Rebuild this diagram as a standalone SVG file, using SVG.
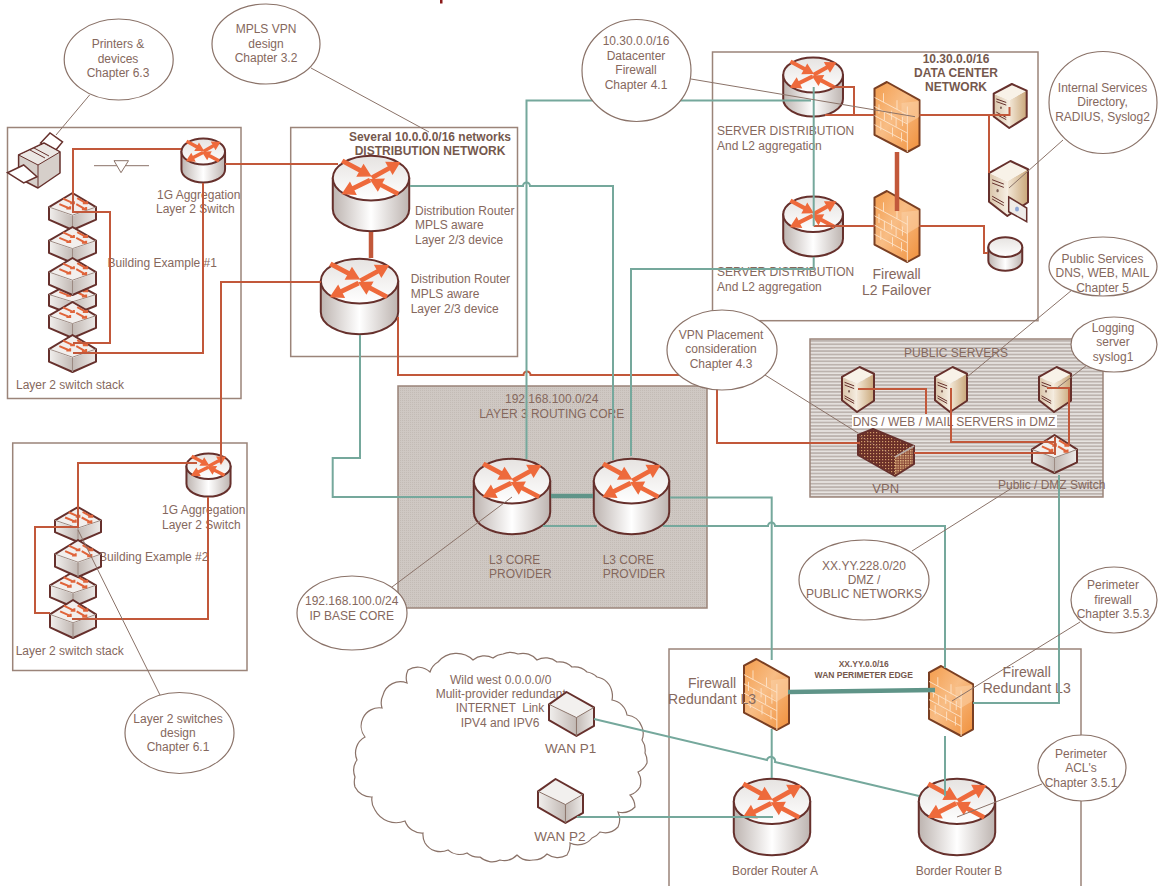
<svg xmlns="http://www.w3.org/2000/svg" width="1158" height="886" viewBox="0 0 1158 886">
<style>
text{font-family:"Liberation Sans",Arial,sans-serif;font-size:12px;fill:#85685d}
.m{text-anchor:middle}
.b{font-weight:bold;fill:#75584d}
.l{font-size:14px}
.s{font-size:8.5px}
.box{fill:none;stroke:#9b8479;stroke-width:1.5}
.ol{stroke:#66302c;stroke-width:2;vector-effect:non-scaling-stroke;stroke-linejoin:round}
.ofw{stroke:#7a3f22;stroke-width:2;vector-effect:non-scaling-stroke;stroke-linejoin:round}
.in{fill:none;stroke:#66302c;stroke-width:1;vector-effect:non-scaling-stroke}
.br{fill:none;stroke:#fde3c8;stroke-width:.9;vector-effect:non-scaling-stroke}
.ar{fill:#ee6a3c;stroke:#ee6a3c;stroke-width:1.6;vector-effect:non-scaling-stroke}
.o{fill:none;stroke:#c2583a;stroke-width:2}
.ot{fill:none;stroke:#c2583a;stroke-width:4.5}
.g{fill:none;stroke:#75a89c;stroke-width:2}
.gt{fill:none;stroke:#5f9488;stroke-width:4.5}
.c{fill:none;stroke:#8a7268;stroke-width:1}
.e{fill:#fff;stroke:#8a7268;stroke-width:1.2}
</style>
<defs>
<linearGradient id="gb" x1="0" x2="1" y1="0" y2="0"><stop offset="0" stop-color="#bdb4b0"/><stop offset=".5" stop-color="#fff"/><stop offset="1" stop-color="#bdb4b0"/></linearGradient>
<linearGradient id="gt" x1="0" x2="0" y1="0" y2="1"><stop offset="0" stop-color="#e6e3e1"/><stop offset="1" stop-color="#fff"/></linearGradient>
<linearGradient id="gl" x1="0" x2="1" y1="0" y2="0"><stop offset="0" stop-color="#f0eeec"/><stop offset="1" stop-color="#c2b9b4"/></linearGradient>
<linearGradient id="gr" x1="0" x2="1" y1="0" y2="0"><stop offset="0" stop-color="#c2b9b4"/><stop offset="1" stop-color="#ecE9e7"/></linearGradient>
<linearGradient id="fw" x1="0" x2="1" y1="0" y2="1"><stop offset="0" stop-color="#f39c4c"/><stop offset=".45" stop-color="#f8bd85"/><stop offset="1" stop-color="#f0903c"/></linearGradient>
<linearGradient id="sl" x1="0" x2="1" y1="0" y2="0"><stop offset="0" stop-color="#d9c4a8"/><stop offset="1" stop-color="#f6eee2"/></linearGradient>
<linearGradient id="sr" x1="0" x2="1" y1="0" y2="0"><stop offset="0" stop-color="#f3e8d8"/><stop offset="1" stop-color="#c9a779"/></linearGradient>
<pattern id="stripes" width="3" height="3.4" patternUnits="userSpaceOnUse"><rect width="3" height="3.4" fill="#e8e4e1"/><rect width="3" height="1.8" fill="#bcb3ae"/></pattern>
<pattern id="dots" width="2" height="2" patternUnits="userSpaceOnUse"><rect width="2" height="2" fill="#cfc8c3"/><rect width="1" height="1" fill="#c3bbb5"/></pattern>
<pattern id="vp" width="3" height="3" patternUnits="userSpaceOnUse"><rect width="3" height="3" fill="#6b2f28"/><rect width="1.2" height="1.2" fill="#d4a06c"/></pattern>
<pattern id="vp2" width="2.5" height="2.5" patternUnits="userSpaceOnUse"><rect width="2.5" height="2.5" fill="#8a4a38"/><rect width="1.4" height="1.4" fill="#e5bb86"/></pattern>
<g id="arrows">
<polygon class="ar" points="13,9.8 35.8,22.1 32.9,27.3 49,27 40.5,13.3 37.7,18.5 15,6.2"/>
<polygon class="ar" points="53,30.8 74.8,18.6 77.7,23.8 86,10 69.9,9.8 72.8,15.1 51,27.3"/>
<polygon class="ar" points="47.1,31.2 25.6,41.9 22.9,36.5 14,50 30.1,50.9 27.4,45.5 48.9,34.8"/>
<polygon class="ar" points="84.9,48.2 63.3,36.8 66.1,31.5 50,32 58.7,45.7 61.5,40.4 83.1,51.8"/>
</g>
<g id="cyl">
<path class="ol" fill="url(#gb)" d="M1,30V70A49,29 0 0 0 99,70V30Z"/>
<ellipse cx="50" cy="30" rx="49" ry="29" fill="url(#gt)" class="ol"/>
</g>
<g id="router"><use href="#cyl"/><use href="#arrows"/></g>
<g id="switch">
<polygon fill="url(#gl)" points="1,40 50,62 50,98 1,71"/>
<polygon fill="url(#gr)" points="50,62 99,40 99,71 50,98"/>
<polygon fill="#f2efed" points="2,38 50,2 98,38 50,60"/>
<path class="ol" fill="none" d="M0,38 50,0 100,38 100,72 50,100 0,72Z"/>
<path fill="none" stroke="#9c8a82" stroke-width="1" vector-effect="non-scaling-stroke" d="M0,38 50,60 100,38M50,60V100"/>
<path fill="none" stroke="#e0643a" stroke-width="2" vector-effect="non-scaling-stroke" d="M30,15 L52,28M45,28h8v-6M60,14 L80,28M72,28h9v-6M22,30 L44,42M37,42h8v-6M58,30 L78,44M70,44h9v-6"/>
</g>
<g id="firewall">
<polygon class="ofw" fill="url(#fw)" points="0,9.4 27.5,0 100,26 100,90.5 73,100 0,75.5"/>
<polygon fill="#fbd2a8" opacity=".55" points="60,30 99,27 99,50 73,60 60,52"/>
<path class="br" d="M0,22 73,47M0,35 73,60M0,48 73,73M0,61 73,86M20,16v13M50,26v13M10,32v13M38,41v13M62,50v13M22,42v13M48,51v13M14,56v13M40,65v13M60,72v13M73,35V100"/>
</g>
<g id="server">
<polygon fill="url(#sr)" points="47,37 100,15 100,75 47,100"/>
<polygon fill="url(#sl)" points="0,22 47,37 47,100 0,74"/>
<polygon fill="#f8f2e8" points="0,22 55,0 100,15 47,37"/>
<path class="ol" fill="none" d="M0,22 55,0 100,15 100,75 47,100 0,74Z"/>
<path class="in" d="M8,34 38,42M8,40 38,48M8,64 38,76M8,69 38,81"/>
<circle cx="22" cy="54" r="3" fill="#7d5f55"/>
</g>
<g id="wanbox">
<polygon fill="url(#gl)" points="1,29 61,58 61,99 1,64"/>
<polygon fill="url(#gr)" points="61,58 99,36 99,77 61,99"/>
<polygon fill="#f2f0ee" points="2,28 39,1 98,35 61,57"/>
<path class="ol" fill="none" d="M0,28 39,0 100,35 100,77 61,100 0,64Z"/>
<path fill="none" stroke="#8a7268" stroke-width="1" vector-effect="non-scaling-stroke" d="M0,28 61,58 100,35M61,58V100"/>
</g>
</defs>
<rect width="1158" height="886" fill="#fff"/>
<rect x="440" y="0" width="2.5" height="3.5" fill="#8b1a1a"/>

<g id="regions">
<g id="building-1"><rect class="box" x="7.5" y="127.5" width="233.5" height="271"/><text x="107.5" y="267">Building Example #1</text></g>
<g id="distribution-network"><rect class="box" x="290.7" y="127.5" width="226.8" height="229"/><text class="m b" x="430" y="141">Several 10.0.0.0/16 networks</text><text class="m b" x="430" y="155">DISTRIBUTION NETWORK</text></g>
<g id="data-center"><rect class="box" x="712.5" y="52" width="325.5" height="268.7"/><text class="m b" x="956" y="63">10.30.0.0/16</text><text class="m b" x="956" y="77">DATA CENTER</text><text class="m b" x="956" y="91">NETWORK</text></g>
<g id="building-2"><rect class="box" x="12.7" y="443" width="234.3" height="227.5"/><text x="99" y="560.5">Building Example #2</text></g>
<g id="routing-core"><rect x="398" y="386" width="309" height="222" fill="url(#dots)" stroke="#9b8479" stroke-width="1.5"/><text class="m" x="551.7" y="403">192.168.100.0/24</text><text class="m" x="551.7" y="417.5">LAYER 3 ROUTING CORE</text></g>
<g id="public-servers"><rect x="810" y="339" width="293" height="158" fill="url(#stripes)" stroke="#9b8479" stroke-width="1.5"/><text class="m" x="956" y="356.5">PUBLIC SERVERS</text><rect x="852" y="415" width="205" height="13" fill="#fff"/><text class="m" x="954" y="425.5">DNS / WEB / MAIL SERVERS in DMZ</text></g>
<g id="wan-perimeter"><path class="box" d="M669,890V649H1081V890"/><text class="m b s" x="863.7" y="667">XX.YY.0.0/16</text><text class="m b s" x="863.7" y="678">WAN PERIMETER EDGE</text></g>
<g id="internet-cloud"><path fill="#fff" stroke="#8a7268" stroke-width="1.2" d="M355,777A18,18 0 0 1 357,760A18,18 0 0 1 365,737A18,18 0 0 1 363,718A18,18 0 0 1 382,708A18,18 0 0 1 383,695A18,18 0 0 1 407,683A18,18 0 0 1 408,670A18,18 0 0 1 430,672A18,18 0 0 1 438,662A24,24 0 0 1 473,660A18,18 0 0 1 493,658A18,18 0 0 1 503,654A18,18 0 0 1 518,654A18,18 0 0 1 537,660A18,18 0 0 1 557,662A18,18 0 0 1 572,667A18,18 0 0 1 587,672A18,18 0 0 1 597,677A18,18 0 0 1 612,692A18,18 0 0 1 612,700A18,18 0 0 1 627,715A18,18 0 0 1 642,727A18,18 0 0 1 642,740A18,18 0 0 1 645,753A18,18 0 0 1 647,763A18,18 0 0 1 638,772A18,18 0 0 1 640,787A18,18 0 0 1 630,795A18,18 0 0 1 635,807A18,18 0 0 1 618,812A18,18 0 0 1 618,827A18,18 0 0 1 600,832A18,18 0 0 1 592,838A18,18 0 0 1 570,843A18,18 0 0 1 567,855A18,18 0 0 1 547,854A18,18 0 0 1 533,860A18,18 0 0 1 517,855A18,18 0 0 1 500,860A18,18 0 0 1 480,857A18,18 0 0 1 467,853A18,18 0 0 1 448,850A18,18 0 0 1 425,843A18,18 0 0 1 423,833A18,18 0 0 1 405,821A24,24 0 0 1 375,810A18,18 0 0 1 372,797A18,18 0 0 1 355,787A18,18 0 0 1 355,777Z"/>
<text class="m" x="500.7" y="683.5">Wild west 0.0.0.0/0</text><text class="m" x="500.7" y="697.5">Mulit-provider redundant</text><text class="m" x="500" y="712" xml:space="preserve">INTERNET  Link</text><text class="m" x="500" y="726.5">IPV4 and IPV6</text></g>
</g>

<g id="printer">
<polygon fill="#fff" stroke="#66302c" stroke-width="1.5" points="40.6,143 50,133 62.5,142 55.8,150"/>
<polygon fill="#d6cfca" stroke="#66302c" stroke-width="1.5" stroke-linejoin="round" points="18.6,155 44,143 60,152 60,173 38,188 18.6,178"/>
<polygon fill="#ebe7e4" points="20,155 44,144 59,152 38,165"/>
<path class="in" d="M18.6,155 38,165 60,152M38,165V188M30,150 45,158M34,148 49,156"/>
<polygon fill="#fff" stroke="#66302c" stroke-width="1.5" points="7.4,172.7 23.7,165 37,176.7 23.7,183"/>
</g>
<g id="triangle-symbol"><path class="c" d="M94,165.7H149"/><polygon fill="#fff" stroke="#8a7268" points="114,160.7 128.5,160.7 121,172.7"/></g>

<g id="stack-1">
<use href="#switch" transform="translate(49,193) scale(.47,.37)"/>
<use href="#switch" transform="translate(49,227) scale(.47,.36)"/>
<use href="#switch" transform="translate(49,282) scale(.47,.33)"/>
<use href="#switch" transform="translate(49,258) scale(.47,.37)"/>
<use href="#switch" transform="translate(49,302) scale(.47,.36)"/>
<use href="#switch" transform="translate(49,335) scale(.47,.37)"/>
<text x="16" y="389">Layer 2 switch stack</text>
</g>
<g id="stack-2">
<use href="#switch" transform="translate(55,507) scale(.46,.35)"/>
<use href="#switch" transform="translate(50,572) scale(.46,.35)"/>
<use href="#switch" transform="translate(55,540) scale(.46,.37)"/>
<use href="#switch" transform="translate(50,600) scale(.46,.38)"/>
<text x="15.7" y="655">Layer 2 switch stack</text>
</g>
<g id="aggregation-1"><use href="#router" transform="translate(181,138) scale(.445,.45)"/><text x="157" y="199">1G Aggregation</text><text x="156" y="213">Layer 2 Switch</text></g>
<g id="aggregation-2"><use href="#router" transform="translate(186,453) scale(.45,.44)"/><text x="162" y="513.5">1G Aggregation</text><text x="162" y="528.5">Layer 2 Switch</text></g>
<g id="distribution-router-1"><use href="#router" transform="translate(332,155) scale(.78,.77)"/><text x="415" y="215">Distribution Router</text><text x="415" y="229">MPLS aware</text><text x="415" y="244">Layer 2/3 device</text></g>
<g id="distribution-router-2"><use href="#router" transform="translate(320,258) scale(.79,.77)"/><text x="410.7" y="283">Distribution Router</text><text x="410.7" y="298">MPLS aware</text><text x="410.7" y="313">Layer 2/3 device</text></g>
<g id="server-distribution-1"><use href="#router" transform="translate(782.6,57) scale(.61,.6)"/><text x="717" y="135">SERVER DISTRIBUTION</text><text x="717" y="150">And L2 aggregation</text></g>
<g id="server-distribution-2"><use href="#router" transform="translate(782.6,196) scale(.61,.61)"/><text x="717" y="276">SERVER DISTRIBUTION</text><text x="717" y="291">And L2 aggregation</text></g>
<g id="firewall-dc-1"><use href="#firewall" transform="translate(874.5,82) scale(.45,.7)"/></g>
<g id="firewall-dc-2"><use href="#firewall" transform="translate(874.5,191) scale(.45,.71)"/><text class="m l" x="896.6" y="279">Firewall</text><text class="m l" x="896.6" y="295">L2 Failover</text></g>
<g id="server-small"><use href="#server" transform="translate(993.7,84) scale(.33,.44)"/></g>
<g id="server-internal"><use href="#server" transform="translate(989,161) scale(.39,.55)"/><polygon fill="#efece9" stroke="#66302c" stroke-width="1.5" points="1008.7,197 1026.7,208 1026.7,221.7 1008.7,211.7"/><ellipse cx="1017" cy="209" rx="2" ry="2.5" fill="#8fa8d8"/></g>
<g id="storage"><use href="#cyl" transform="translate(988,237) scale(.346,.34)"/></g>
<g id="public-server-1"><use href="#server" transform="translate(842,367) scale(.32,.45)"/></g>
<g id="public-server-2"><use href="#server" transform="translate(935,367) scale(.32,.45)"/></g>
<g id="public-server-3"><use href="#server" transform="translate(1039,367) scale(.32,.45)"/></g>
<g id="vpn"><polygon fill="url(#vp)" points="858,435 895,457 895,476 858,455"/><polygon fill="url(#vp2)" points="895,457 914,446 914,464 895,476"/><polygon fill="url(#vp)" points="858,435 873,429 914,446 895,457"/><path class="ol" fill="none" d="M858,435 873,429 914,446 914,464 895,476 858,455Z"/><path d="M895,457 914,446" stroke="#b9aca6" stroke-width="1.5"/><text class="m" style="font-size:13px" x="885.7" y="492.5">VPN</text></g>
<g id="dmz-switch"><use href="#switch" transform="translate(1032,435) scale(.45,.38)"/><text class="m" x="1051.7" y="488.5">Public / DMZ Switch</text></g>
<g id="core-1"><use href="#router" transform="translate(473,458) scale(.78,.77)"/><text x="489" y="563.5">L3 CORE</text><text x="489" y="578">PROVIDER</text></g>
<g id="core-2"><use href="#router" transform="translate(593,458) scale(.77,.77)"/><text x="602.7" y="563.5">L3 CORE</text><text x="602.7" y="578">PROVIDER</text></g>
<g id="firewall-wan-1"><use href="#firewall" transform="translate(744,659) scale(.45,.71)"/><text class="m l" x="712" y="688">Firewall</text><text class="m l" x="712" y="704">Redundant L3</text></g>
<g id="firewall-wan-2"><use href="#firewall" transform="translate(929,666) scale(.44,.7)"/><text class="m l" x="1026.7" y="677">Firewall</text><text class="m l" x="1026.7" y="693">Redundant L3</text></g>
<g id="wan-p1"><use href="#wanbox" transform="translate(549,692) scale(.45,.44)"/><text class="m" style="font-size:13.5px" x="570.7" y="753">WAN P1</text></g>
<g id="wan-p2"><use href="#wanbox" transform="translate(538,779) scale(.45,.44)"/><text class="m" style="font-size:13.5px" x="560" y="841">WAN P2</text></g>
<g id="border-a"><use href="#router" transform="translate(733,778) scale(.78,.78)"/><text class="m" x="775" y="875">Border Router A</text></g>
<g id="border-b"><use href="#router" transform="translate(918,778) scale(.78,.78)"/><text class="m" x="959" y="875">Border Router B</text></g>

<g id="connectors">
<path class="o" d="M181,149H73V213"/>
<path class="o" d="M73,212H110V343H73"/>
<path class="o" d="M203,183V353H73"/>
<path class="o" d="M225,164H338"/>
<path class="ot" d="M371,232V258"/>
<path class="o" d="M321,282H221V463"/>
<path class="o" d="M197,463H78V527H35V613H50"/>
<path class="o" d="M208,497V619H72"/>
<path class="o" d="M398,317V375H523.5A3.5,3.5 0 0 1 530.5,375H717V443H860"/>
<path class="o" d="M832.5,87H854V115M825,115H874"/>
<path class="o" d="M919.5,115H1009.5V107M989,115V173"/>
<path class="ot" d="M897,152V211"/>
<path class="o" d="M813.7,226H874.5"/>
<path class="o" d="M919.5,226H984V253H988"/>
<path class="o" d="M858,389H926V414"/>
<path class="o" d="M951,388V442H1055"/>
<path class="o" d="M1047,388H1069V445"/>
<path class="o" d="M914,453H1055M1055,437V455"/>
<path class="g" d="M410,186H523A3.5,3.5 0 0 1 530,186H613V460"/>
<path class="g" d="M526.5,459V100.5H811"/>
<path class="g" d="M813.7,87V226"/>
<path class="g" d="M631,456V269H813.7V257"/>
<path class="g" d="M360,335V458H332.7V497H473"/>
<path class="gt" d="M551,496H593"/>
<path class="g" d="M543,526H597"/>
<path class="g" d="M663,526H768A3.5,3.5 0 0 1 775,526H945V668M945,736V796"/>
<path class="g" d="M670,497.5H771.7V660M771.7,729V778"/>
<path class="g" d="M1059,475V703H973"/>
<path class="gt" d="M788,692 935,690"/>
<path class="g" d="M594,719 767,760A4,4 0 0 1 775,762L919,796"/>
<path class="g" d="M577,817H773"/>
</g>

<g id="callouts">
<path class="c" d="M89.6,95 56,135"/>
<path class="c" d="M311,68 429,132"/>
<path class="c" d="M691,79 915,116.7"/>
<path class="c" d="M1063,140 1009,188"/>
<path class="c" d="M1072,290 967,377"/>
<path class="c" d="M1087,365 1057,388"/>
<path class="c" d="M765,375 858,433"/>
<path class="c" d="M912,551 1012,488"/>
<path class="c" d="M392,587 512,497"/>
<path class="c" d="M160,695 78,530"/>
<path class="c" d="M1080,622 952,701"/>
<path class="c" d="M1042,784 957,817"/>
<g id="note-printers"><ellipse class="e" cx="118.7" cy="59.5" rx="54.5" ry="40.5"/><text class="m" x="118" y="48">Printers &amp;</text><text class="m" x="118" y="63">devices</text><text class="m" x="118" y="77">Chapter 6.3</text></g>
<g id="note-mpls"><ellipse class="e" cx="266" cy="44" rx="54" ry="40"/><text class="m" x="266" y="33">MPLS VPN</text><text class="m" x="266" y="47.5">design</text><text class="m" x="266" y="62">Chapter 3.2</text></g>
<g id="note-dc-firewall"><ellipse class="e" cx="636.5" cy="70.5" rx="54.5" ry="51"/><text class="m" x="636" y="45">10.30.0.0/16</text><text class="m" x="636" y="59.5">Datacenter</text><text class="m" x="636" y="74">Firewall</text><text class="m" x="636" y="88.5">Chapter 4.1</text></g>
<g id="note-internal"><ellipse class="e" cx="1103" cy="102.5" rx="54" ry="51"/><text class="m" x="1102.5" y="92">Internal Services</text><text class="m" x="1102.5" y="106">Directory,</text><text class="m" x="1102.5" y="121">RADIUS, Syslog2</text></g>
<g id="note-public"><ellipse class="e" cx="1103" cy="266.5" rx="54" ry="29.5"/><text class="m" x="1102.5" y="262.5">Public Services</text><text class="m" x="1102.5" y="277">DNS, WEB, MAIL</text><text class="m" x="1102.5" y="291.5">Chapter 5</text></g>
<g id="note-vpn"><ellipse class="e" cx="722" cy="350" rx="55" ry="40"/><text class="m" x="721" y="338.5">VPN Placement</text><text class="m" x="721" y="353">consideration</text><text class="m" x="721" y="367.5">Chapter 4.3</text></g>
<g id="note-logging"><ellipse class="e" cx="1114" cy="344.5" rx="43" ry="27.5"/><text class="m" x="1113" y="332">Logging</text><text class="m" x="1113" y="346">server</text><text class="m" x="1113" y="360.5">syslog1</text></g>
<g id="note-dmz"><ellipse class="e" cx="864" cy="580" rx="65" ry="40"/><text class="m" x="864" y="569.5">XX.YY.228.0/20</text><text class="m" x="864" y="584">DMZ /</text><text class="m" x="864" y="598">PUBLIC NETWORKS</text></g>
<g id="note-ip-base"><ellipse class="e" cx="352" cy="613" rx="55" ry="37"/><text class="m" x="351.7" y="605">192.168.100.0/24</text><text class="m" x="351.7" y="619.5">IP BASE CORE</text></g>
<g id="note-l2"><ellipse class="e" cx="179.5" cy="733" rx="54.5" ry="40.5"/><text class="m" x="178" y="722.5">Layer 2 switches</text><text class="m" x="178" y="737">design</text><text class="m" x="178" y="751">Chapter 6.1</text></g>
<g id="note-perimeter-fw"><ellipse class="e" cx="1114" cy="600" rx="43" ry="33"/><text class="m" x="1113" y="589">Perimeter</text><text class="m" x="1113" y="603.5">firewall</text><text class="m" x="1113" y="618">Chapter 3.5.3</text></g>
<g id="note-acl"><ellipse class="e" cx="1082" cy="768" rx="44" ry="33"/><text class="m" x="1081" y="757.5">Perimeter</text><text class="m" x="1081" y="772">ACL's</text><text class="m" x="1081" y="786.5">Chapter 3.5.1</text></g>
</g>
</svg>
